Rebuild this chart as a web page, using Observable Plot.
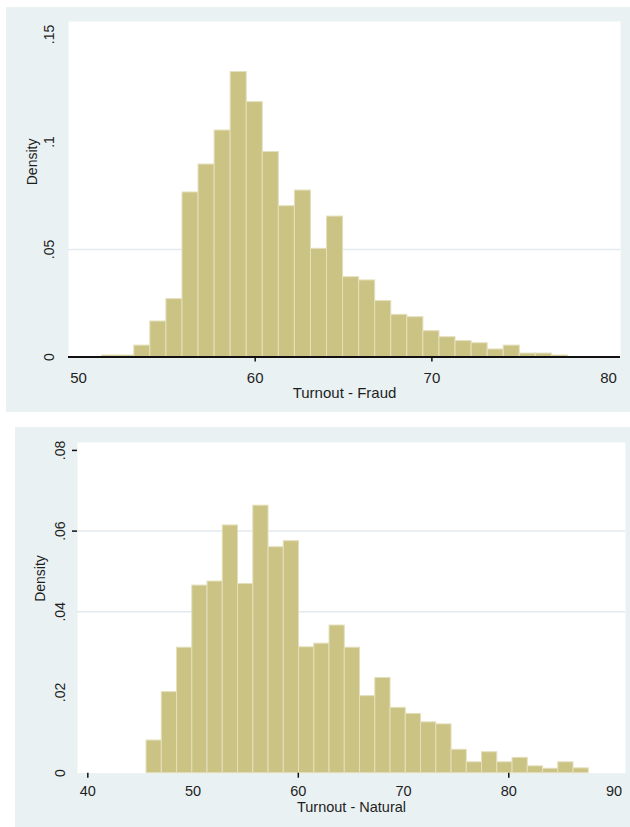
<!DOCTYPE html>
<html><head><meta charset="utf-8">
<script src="https://cdn.jsdelivr.net/npm/d3@7"></script>
<script src="https://cdn.jsdelivr.net/npm/@observablehq/plot@0.6"></script>
<style>
html,body{margin:0;padding:0;background:#fff;}
#wrap{position:relative;width:630px;height:827px;overflow:hidden;font-family:"Liberation Sans",Arial,sans-serif;}
.panel{position:absolute;background:#e9f1f3;}
#p1{left:6px;top:7px;width:624px;height:405px;}
#p2{left:15px;top:427px;width:615px;height:400px;}
.panel svg{display:block;}
</style></head><body>
<div id="wrap"><div id="p1" class="panel"></div><div id="p2" class="panel"></div></div>
<script>
// ---- Data ----
const fraudBinStart = 51.34;
const fraudBinWidth = 0.909;
const fraudDensity = [0.0007,0.0007,0.0053,0.0165,0.0269,0.0765,0.0895,0.1053,0.1325,0.1185,
  0.0953,0.0701,0.0774,0.0503,0.0653,0.0371,0.0356,0.0260,0.0196,0.0185,
  0.0120,0.0092,0.0074,0.0064,0.0035,0.0053,0.0016,0.0016,0.0007];
const fraudXTicks = [50,60,70,80];
const fraudXTickMarks = [60,70];
const fraudYTicks = [0,0.05,0.1,0.15];
const fraudGrid = [0.05];
const fraudTitle = "Turnout - Fraud";

const naturalBinStart = 45.58;
const naturalBinWidth = 1.449;
const naturalDensity = [0.0081,0.0201,0.0311,0.0465,0.0475,0.0614,0.0469,0.0663,0.0560,0.0575,
  0.0312,0.0321,0.0366,0.0311,0.0191,0.0236,0.0162,0.0147,0.0126,0.0121,
  0.0058,0.0027,0.0052,0.0027,0.0038,0.0017,0.0011,0.0027,0.0012];
const naturalXTicks = [40,50,60,70,80,90];
const naturalXTickMarks = [40,60,80];
const naturalYTicks = [0,0.02,0.04,0.06,0.08];
const naturalYTickMarks = [0.06,0.08];
const naturalGrid = [0.04,0.06];
const naturalTitle = "Turnout - Natural";

const yLabel = "Density";

// ---- Helpers ----
const BAR = "#cbc383", BAR_EDGE = "#e4dfbc", INK = "#1e1e1e", GRID = "#e2eaee";
const fmtY = d => d === 0 ? "0" : d3.format(".2~f")(d).replace(/^0/, "");
function bins(start, width, dens) {
  return dens.map((v, i) => ({x1: start + i*width, x2: start + (i+1)*width, y: v}));
}

function panel({data, w, h, margins, xDomain, yDomain, xTicks, xTickMarks, yTicks, yTickMarks, grid, title, axisLine, tickLabelDx, titleDx, titleDy, xLabelPad, xTitleDy, xFont}) {
  const marks = [
    Plot.frame({fill: "white", stroke: "none"}),
    Plot.gridY(grid, {stroke: GRID, strokeOpacity: 1, strokeWidth: 1.5}),
    Plot.rectY(data, {x1: "x1", x2: "x2", y: "y", fill: BAR, stroke: BAR_EDGE, strokeWidth: 1}),
  ];
  if (axisLine) marks.push(Plot.ruleY([0], {stroke: "#111", strokeWidth: 2}));
  marks.push(
    Plot.axisX(xTickMarks, {tickSize: 5, tickFormat: () => "", label: null, stroke: "#111", strokeWidth: 1.5}),
    Plot.axisX(xTicks, {tickSize: 0, tickPadding: xLabelPad, label: null, fontSize: xFont, fill: INK}),
    Plot.text(yTicks, {y: d => d, frameAnchor: "left", dx: tickLabelDx, rotate: -90, text: fmtY, textAnchor: "middle", fontSize: 14, fill: INK}),
    Plot.text([title], {frameAnchor: "bottom", dy: xTitleDy, lineAnchor: "top", text: d => d, fontSize: xFont, fill: INK}),
    Plot.text([yLabel], {frameAnchor: "left", dx: titleDx, dy: titleDy, rotate: -90, text: d => d, fontSize: 14, fill: INK})
  );
  if (yTickMarks) marks.push(Plot.axisY(yTickMarks, {tickSize: 5, tickFormat: () => "", label: null, stroke: "#111", strokeWidth: 1.5}));
  return Plot.plot({
    width: w, height: h,
    marginLeft: margins[0], marginTop: margins[1], marginRight: margins[2], marginBottom: margins[3],
    x: {domain: xDomain, axis: null}, y: {domain: yDomain, axis: null},
    style: {background: "transparent", fontFamily: "'Liberation Sans', Arial, sans-serif", overflow: "visible"},
    marks
  });
}

document.getElementById("p1").append(panel({
  data: bins(fraudBinStart, fraudBinWidth, fraudDensity),
  w: 624, h: 405, margins: [62, 14, 10, 55.5],
  xDomain: [49.434, 80.675], yDomain: [0, 0.156],
  xTicks: fraudXTicks, xTickMarks: fraudXTickMarks, yTicks: fraudYTicks, yTickMarks: null,
  grid: fraudGrid, title: fraudTitle, axisLine: true,
  tickLabelDx: -19, titleDx: -36, titleDy: -4, xLabelPad: 15.5, xTitleDy: 30, xFont: 15
}));
document.getElementById("p2").append(panel({
  data: bins(naturalBinStart, naturalBinWidth, naturalDensity),
  w: 615, h: 400, margins: [62, 15, 5, 54.3],
  xDomain: [39.02, 91.09], yDomain: [0, 0.08196],
  xTicks: naturalXTicks, xTickMarks: naturalXTickMarks, yTicks: naturalYTicks, yTickMarks: naturalYTickMarks,
  grid: naturalGrid, title: naturalTitle, axisLine: false,
  tickLabelDx: -17, titleDx: -37, titleDy: -6, xLabelPad: 13, xTitleDy: 28.5, xFont: 14.5
}));
</script>
</body></html>
